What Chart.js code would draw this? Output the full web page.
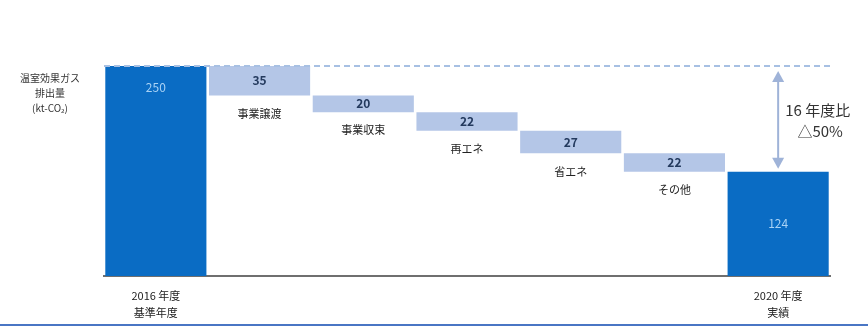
<!DOCTYPE html>
<html>
<head>
<meta charset="utf-8">
<script src="https://cdn.jsdelivr.net/npm/chart.js@4"></script>
<style>
  html, body { margin: 0; padding: 0; background: #fff; }
  #wrap { position: relative; width: 868px; height: 327px; }
  #frame { position: absolute; left: 0; right: 0; top: 324px; height: 2px; background: #4a76c4; }
</style>
</head>
<body>
<div id="wrap">
  <canvas id="chart" width="868" height="327"></canvas>
  <div id="frame"></div>
</div>
<script>
// waterfall: first and last are totals, the rest are reductions
const categories = ["2016 年度\n基準年度", "事業譲渡", "事業収束", "再エネ", "省エネ", "その他", "2020 年度\n実績"];
const values = [250, 35, 20, 22, 27, 22, 124];
const kinds = ["total", "step", "step", "step", "step", "step", "total"];
const axisTitle = ["温室効果ガス", "排出量", "(kt-CO₂)"];
const compareText = ["16 年度比", "△50%"];

const totalColor = "#0a6cc4";
const stepColor = "#b4c6e7";
const font = "'Noto Sans CJK JP', 'Noto Sans', sans-serif";

// floating ranges from running total
let running = 0;
const ranges = values.map((v, i) => {
  if (kinds[i] === "total") {
    running = v;
    return [0, v];
  }
  const r = [running - v, running];
  running -= v;
  return r;
});

const waterfallLabels = {
  id: "waterfallLabels",
  afterDatasetsDraw(chart) {
    const { ctx, chartArea } = chart;
    const meta = chart.getDatasetMeta(0);
    const y = chart.scales.y;
    ctx.save();
    ctx.textAlign = "center";
    ctx.textBaseline = "middle";

    meta.data.forEach((bar, i) => {
      const [lo, hi] = ranges[i];
      const top = y.getPixelForValue(hi);
      const bottom = y.getPixelForValue(lo);
      if (kinds[i] === "total") {
        ctx.fillStyle = "#a9d2f5";
        ctx.font = "12px " + font;
        const ty = i === 0 ? top + 21 : (top + bottom) / 2;
        ctx.fillText(values[i], bar.x, ty);
      } else {
        ctx.fillStyle = "#243a5e";
        ctx.font = "bold 12px " + font;
        ctx.fillText(values[i], bar.x, (top + bottom) / 2);
        ctx.fillStyle = "#222";
        ctx.font = "11px " + font;
        ctx.fillText(categories[i], bar.x, bottom + 18);
      }
    });

    // dashed reference line at the base year level
    const baseY = y.getPixelForValue(values[0]);
    ctx.strokeStyle = "#a7c0e3";
    ctx.lineWidth = 2;
    ctx.setLineDash([6, 4]);
    ctx.beginPath();
    ctx.moveTo(chartArea.left, baseY);
    ctx.lineTo(chartArea.right + 2, baseY);
    ctx.stroke();
    ctx.setLineDash([]);

    // double-headed arrow over the last bar
    const last = meta.data[meta.data.length - 1];
    const endY = y.getPixelForValue(values[values.length - 1]);
    const ax = last.x;
    const y1 = baseY + 5, y2 = endY - 3;
    ctx.strokeStyle = "#9fb3d8";
    ctx.fillStyle = "#9fb3d8";
    ctx.lineWidth = 2;
    ctx.beginPath();
    ctx.moveTo(ax, y1 + 8);
    ctx.lineTo(ax, y2 - 8);
    ctx.stroke();
    ctx.beginPath();
    ctx.moveTo(ax, y1);
    ctx.lineTo(ax - 6, y1 + 11);
    ctx.lineTo(ax + 6, y1 + 11);
    ctx.closePath();
    ctx.fill();
    ctx.beginPath();
    ctx.moveTo(ax, y2);
    ctx.lineTo(ax - 6, y2 - 11);
    ctx.lineTo(ax + 6, y2 - 11);
    ctx.closePath();
    ctx.fill();

    ctx.fillStyle = "#333";
    ctx.font = "15px " + font;
    ctx.textAlign = "left";
    const midY = (baseY + endY) / 2;
    ctx.fillText(compareText[0], ax + 7, midY - 9);
    ctx.textAlign = "center";
    ctx.fillText(compareText[1], ax + 42, midY + 12);

    // y axis title, left of the chart
    ctx.fillStyle = "#333";
    ctx.font = "10px " + font;
    axisTitle.forEach((t, k) => ctx.fillText(t, 50, baseY + 12 + k * 15));
    ctx.restore();
  }
};

new Chart(document.getElementById("chart"), {
  type: "bar",
  data: {
    labels: categories,
    datasets: [{
      data: ranges,
      backgroundColor: kinds.map(k => k === "total" ? totalColor : stepColor),
      borderWidth: 0,
      categoryPercentage: 1,
      barPercentage: 0.975
    }]
  },
  options: {
    responsive: false,
    animation: false,
    layout: { padding: { left: 104, right: 38, top: 66, bottom: -6 } },
    plugins: { legend: { display: false }, tooltip: { enabled: false } },
    scales: {
      y: { display: false, min: 0, max: 250 },
      x: {
        grid: { display: false, drawTicks: false },
        border: { display: true, color: "#6f6f6f", width: 2 },
        ticks: {
          padding: 12,
          color: "#222",
          font: { size: 11, family: font, lineHeight: 1.5 },
          maxRotation: 0,
          autoSkip: false,
          callback: (v, i) => kinds[i] === "total" ? categories[i].split("\n") : ""
        }
      }
    }
  },
  plugins: [waterfallLabels]
});
</script>
</body>
</html>
